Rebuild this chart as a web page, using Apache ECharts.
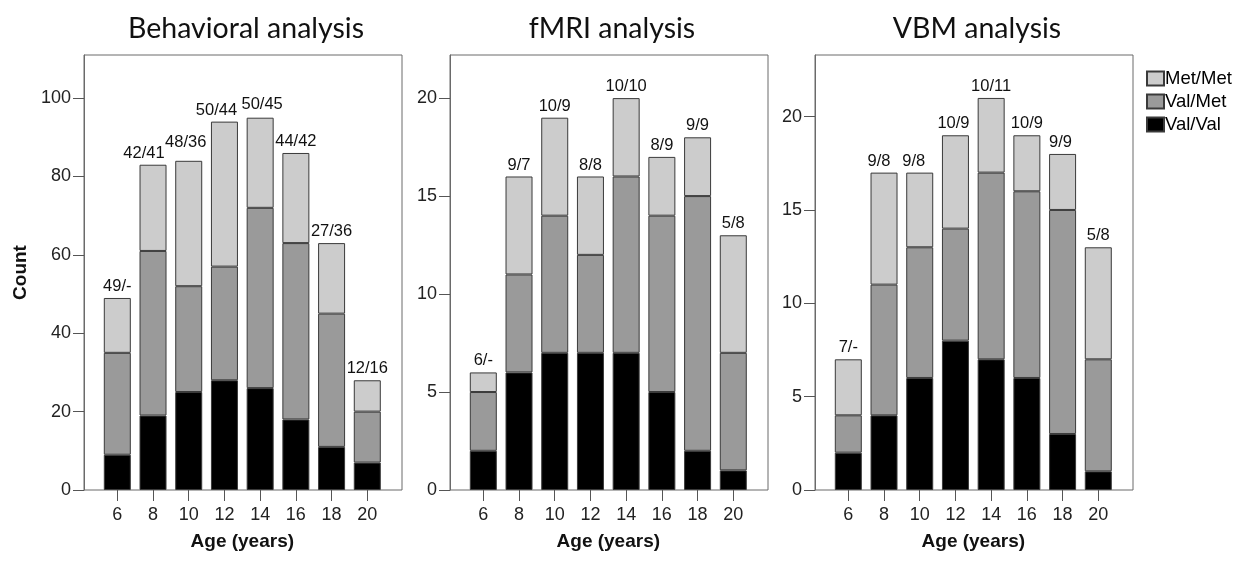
<!DOCTYPE html>
<html>
<head>
<meta charset="utf-8">
<script src="https://cdn.jsdelivr.net/npm/echarts@6/dist/echarts.min.js"></script>
<style>html,body{margin:0;padding:0;background:#fff}#c{width:1245px;height:565px}</style>
</head>
<body>
<div id="c"></div>
<script>
const ages = ['6', '8', '10', '12', '14', '16', '18', '20'];
const seriesNames = ['Val/Val', 'Val/Met', 'Met/Met'];
const panelTitles = ['Behavioral analysis', 'fMRI analysis', 'VBM analysis'];

// Behavioral
const behValVal = [9, 19, 25, 28, 26, 18, 11, 7];
const behValMet = [26, 42, 27, 29, 46, 45, 34, 13];
const behMetMet = [14, 22, 32, 37, 23, 23, 18, 8];
const behLabels = ['49/-', '42/41', '48/36', '50/44', '50/45', '44/42', '27/36', '12/16'];
const behTicks = [0, 20, 40, 60, 80, 100];

// fMRI
const fmriValVal = [2, 6, 7, 7, 7, 5, 2, 1];
const fmriValMet = [3, 5, 7, 5, 9, 9, 13, 6];
const fmriMetMet = [1, 5, 5, 4, 4, 3, 3, 6];
const fmriLabels = ['6/-', '9/7', '10/9', '8/8', '10/10', '8/9', '9/9', '5/8'];
const fmriTicks = [0, 5, 10, 15, 20];

// VBM
const vbmValVal = [2, 4, 6, 8, 7, 6, 3, 1];
const vbmValMet = [2, 7, 7, 6, 10, 10, 12, 6];
const vbmMetMet = [3, 6, 4, 5, 4, 3, 3, 6];
const vbmLabels = ['7/-', '9/8', '9/8', '10/9', '10/11', '10/9', '9/9', '5/8'];
const vbmTicks = [0, 5, 10, 15, 20];

// ---- layout / style (not data) ----
const panels = [
  {vals: [behValVal, behValMet, behMetMet], labels: behLabels, ticks: behTicks, ymax: 111,
   left: 84, shifts: [[0,0],[-9,0],[-3,-7],[-8,0],[2,-2],[0,0],[0,0],[0,0]]},
  {vals: [fmriValVal, fmriValMet, fmriMetMet], labels: fmriLabels, ticks: fmriTicks, ymax: 22.2,
   left: 450, shifts: null},
  {vals: [vbmValVal, vbmValMet, vbmMetMet], labels: vbmLabels, ticks: vbmTicks, ymax: 23.3,
   left: 815, shifts: [[0,0],[-5,0],[-6,0],[-2,0],[0,0],[0,0],[-2,0],[0,0]]}
];
const colors = {'Val/Val': '#000000', 'Val/Met': '#9a9a9a', 'Met/Met': '#cccccc'};
const frameW = 318, gridTop = 55, gridH = 435, inset = 15.45, dataW = 285.7;
const frame = '#6a6a6a';
const font = 'Liberation Sans, Arial, sans-serif';

const grids = [], xAxes = [], yAxes = [], series = [], titles = [];
panels.forEach((p, i) => {
  grids.push({left: p.left + inset, top: gridTop, width: dataW, height: gridH, show: false});
  titles.push({text: panelTitles[i], left: p.left + frameW / 2 - 2, top: 9, textAlign: 'center',
    textStyle: {fontFamily: 'Lato, Open Sans, sans-serif', fontWeight: 'normal', fontSize: 28.5, color: '#111'}});
  xAxes.push({type: 'category', gridIndex: i, data: ages,
    name: 'Age (years)', nameLocation: 'middle', nameGap: 42,
    nameTextStyle: {fontFamily: font, fontWeight: 'bold', fontSize: 19, color: '#111'},
    axisLine: {show: false},
    axisTick: {show: true, length: 11, alignWithLabel: true, lineStyle: {color: '#555'}},
    axisLabel: {margin: 16, fontFamily: font, fontSize: 18, color: '#222'},
    splitLine: {show: false}});
  yAxes.push({type: 'value', gridIndex: i, min: 0, max: p.ymax, offset: inset,
    name: i === 0 ? 'Count' : '', nameLocation: 'middle', nameGap: 54,
    nameTextStyle: {fontFamily: font, fontWeight: 'bold', fontSize: 19, color: '#111'},
    axisLine: {show: true, lineStyle: {color: frame, width: 1}},
    axisTick: {show: true, length: 11, lineStyle: {color: '#555'}, customValues: p.ticks},
    axisLabel: {margin: 13, fontFamily: font, fontSize: 18, color: '#222', customValues: p.ticks},
    splitLine: {show: false}});
  seriesNames.forEach((name, k) => {
    const isTop = k === seriesNames.length - 1;
    series.push({
      name: name, type: 'bar', xAxisIndex: i, yAxisIndex: i, stack: 'p' + i,
      barWidth: 27,
      itemStyle: {color: colors[name], borderColor: '#3a3a3a', borderWidth: 1},
      data: p.vals[k].map((v, j) => {
        const item = {value: v};
        if (isTop) {
          const sh = p.shifts ? p.shifts[j] : [0, 0];
          item.label = {show: true, position: 'top', distance: 3, offset: sh,
            formatter: p.labels[j], fontFamily: font, fontSize: 16.5, color: '#111'};
        }
        return item;
      }),
      emphasis: {disabled: true},
      animation: false
    });
  });
});
// frame grids (drawn box around each panel)
panels.forEach((p) => {
  grids.push({left: p.left, top: gridTop, width: frameW, height: gridH,
    show: true, borderColor: frame, borderWidth: 1, backgroundColor: 'transparent'});
});

const chart = echarts.init(document.getElementById('c'), null, {renderer: 'canvas'});
chart.setOption({
  animation: false,
  backgroundColor: '#ffffff',
  title: titles,
  legend: {data: ['Met/Met', 'Val/Met', 'Val/Val'], orient: 'vertical', left: 1141, top: 64,
    icon: 'rect', itemWidth: 17, itemHeight: 14, itemGap: 4,
    textStyle: {fontFamily: font, fontSize: 18.5, color: '#000', padding: [0, 0, 0, -4]},
    selectedMode: false},
  grid: grids, xAxis: xAxes, yAxis: yAxes, series: series
});
</script>
</body>
</html>
